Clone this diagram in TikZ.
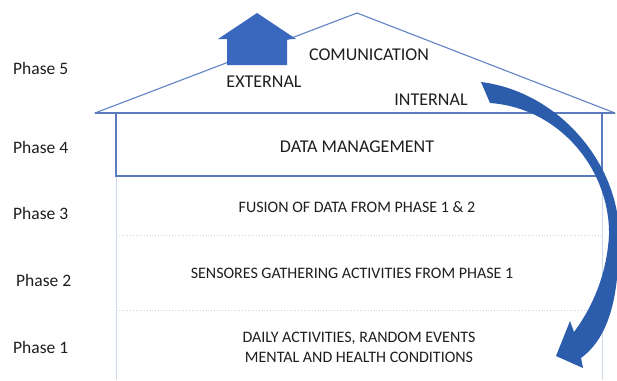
\documentclass[tikz,border=0pt]{standalone}
\usepackage{fontspec}
\setmainfont{Carlito}
\definecolor{roofblue}{RGB}{96,130,196}
\definecolor{boxblue}{RGB}{92,122,190}
\definecolor{wallblue}{RGB}{205,216,238}
\definecolor{sepgray}{RGB}{200,208,225}
\definecolor{txtgray}{RGB}{30,30,30}
\definecolor{houseblue}{RGB}{58,104,190}
\definecolor{arrowblue}{RGB}{44,92,172}
\begin{document}
\begin{tikzpicture}[x=1pt,y=-1pt,
  roofline/.style={draw=roofblue,line width=1.1pt,line join=round},
  boxline/.style={draw=boxblue,line width=1.4pt},
  wallline/.style={draw=wallblue,line width=0.8pt},
  sepline/.style={draw=sepgray,line width=0.8pt,dotted},
  bigtxt/.style={text=txtgray,font=\fontsize{18}{21}\selectfont,inner sep=0pt},
  smalltxt/.style={text=txtgray,font=\fontsize{16}{20}\selectfont,inner sep=0pt,align=center},
  phasetxt/.style={text=txtgray,font=\fontsize{17.5}{21}\selectfont,inner sep=0pt,anchor=west}]
\useasboundingbox (0,0) rectangle (617,380);
\begin{scope}
\clip (0,0) rectangle (617,380);
% walls of lower phases
\draw[wallline] (116,176) -- (116,380);
\draw[wallline] (602,176) -- (602,380);
\draw[sepline] (116,235) -- (602,235);
\draw[sepline] (116,310) -- (602,310);
% phase 4 box
\draw[boxline] (116,113) rectangle (602,176);
% roof
\coordinate (eaveL) at (95,113);
\coordinate (peak) at (357,13);
\coordinate (eaveR) at (615,113);
\draw[roofline] (eaveL) -- (peak) -- (eaveR) -- cycle;
\draw[boxline] (eaveL) -- (eaveR);
% external arrow (house-shaped)
\fill[houseblue] (257,13) -- (296,39) -- (287,39) -- (287,65) -- (227,65) -- (227,39) -- (218,39) -- cycle;
% internal curved arrow
\fill[arrowblue] (481,82) .. controls (560,92) and (619,165) .. (619,235)
  .. controls (619,290) and (612,335) .. (581,358)
  -- (583,368) -- (556,356) -- (570,321) -- (574,332)
  .. controls (594,305) and (607,272) .. (609,235)
  .. controls (610,170) and (560,108) .. (490,103) -- cycle;
\end{scope}
% texts
\node[bigtxt] (com) at (369,55) {COMUNICATION};
\node[bigtxt] (ext) at (264,82) {EXTERNAL};
\node[bigtxt] (int) at (431,100) {INTERNAL};
\node[bigtxt] (dm) at (357,147) {DATA MANAGEMENT};
\node[smalltxt] (fus) at (357,207) {FUSION OF DATA FROM PHASE 1 \& 2};
\node[smalltxt] (sen) at (352,273) {SENSORES GATHERING ACTIVITIES FROM PHASE 1};
\node[smalltxt] (dly) at (359,347) {DAILY ACTIVITIES, RANDOM EVENTS\\MENTAL AND HEALTH CONDITIONS};
\node[phasetxt] (p5) at (13,68) {Phase 5};
\node[phasetxt] (p4) at (13,147) {Phase 4};
\node[phasetxt] (p3) at (13,213) {Phase 3};
\node[phasetxt] (p2) at (16,280) {Phase 2};
\node[phasetxt] (p1) at (13,347) {Phase 1};
\end{tikzpicture}
\end{document}
